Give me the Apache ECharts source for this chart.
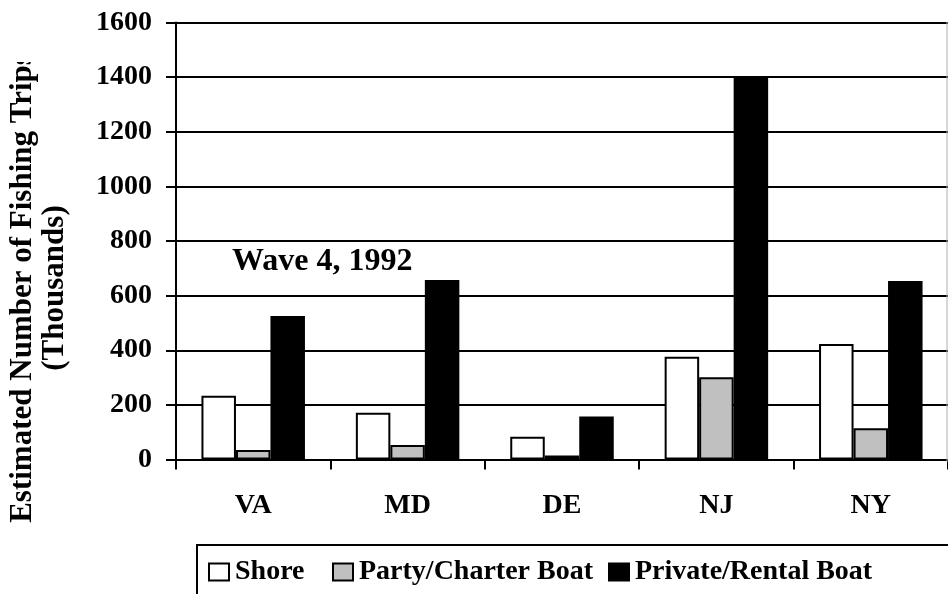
<!DOCTYPE html>
<html>
<head>
<meta charset="utf-8">
<script src="https://cdn.jsdelivr.net/npm/echarts@6/dist/echarts.min.js"></script>
<style>
  html, body { margin: 0; padding: 0; background: #fff; }
  #chart { width: 948px; height: 594px; }
</style>
</head>
<body>
<div id="chart"></div>
<script>
// Estimated fishing trips (thousands) by state and fishing mode
const states = ['VA', 'MD', 'DE', 'NJ', 'NY'];
const shore = [233, 171, 83, 376, 423];
const partyCharter = [35, 53, 15, 301, 114];
const privateRental = [525, 657, 157, 1400, 654];
const yTicks = { min: 0, max: 1600, interval: 200 };
const seriesNames = ['Shore', 'Party/Charter Boat', 'Private/Rental Boat'];

const FONT = '"Liberation Serif", "Times New Roman", serif';

const chart = echarts.init(document.getElementById('chart'), null, { renderer: 'canvas' });

function barSeries(name, data, fill) {
  return {
    name: name,
    type: 'bar',
    data: data,
    barWidth: 34.5,
    barGap: '0%',
    itemStyle: { color: fill, borderColor: '#000', borderWidth: 2 },
    emphasis: { disabled: true },
    animation: false
  };
}

// one legend entry per block so each can sit at its own offset
const legendLefts = [208, 332, 608];
const legends = seriesNames.map((name, i) => ({
  left: legendLefts[i],
  top: 558,
  padding: 0,
  itemWidth: 20,
  itemHeight: 17,
  icon: 'rect',
  selectedMode: false,
  textStyle: { color: '#000', fontFamily: FONT, fontWeight: 'bold', fontSize: 28, padding: [0, 0, 0, 1] },
  data: [name]
}));

chart.setOption({
  backgroundColor: '#ffffff',
  animation: false,
  grid: { left: 176, top: 22.5, width: 774, height: 437, containLabel: false },
  xAxis: {
    type: 'category',
    data: states,
    axisLine: { lineStyle: { color: '#000', width: 2 } },
    axisTick: { show: true, length: 10, lineStyle: { color: '#000', width: 2 } },
    axisLabel: { color: '#000', fontFamily: FONT, fontWeight: 'bold', fontSize: 28, margin: 32 },
    splitLine: { show: false }
  },
  yAxis: {
    type: 'value',
    min: yTicks.min,
    max: yTicks.max,
    interval: yTicks.interval,
    axisLine: { show: true, lineStyle: { color: '#000', width: 2 } },
    axisTick: { show: true, length: 10, lineStyle: { color: '#000', width: 2 } },
    axisLabel: {
      color: '#000', fontFamily: FONT, fontWeight: 'bold', fontSize: 28, margin: 24,
      formatter: v => String(v)
    },
    splitLine: { show: true, lineStyle: { color: '#000', width: 2 } }
  },
  legend: legends,
  graphic: [
    {
      type: 'text',
      left: 232,
      top: 246,
      style: { text: 'Wave 4, 1992', fill: '#000', font: 'bold 32px ' + FONT }
    },
    {
      type: 'text',
      x: 39,
      y: 288,
      rotation: Math.PI / 2,
      style: {
        text: 'Estimated Number of Fishing Trips\n(Thousands)',
        fill: '#000',
        font: 'bold 31px ' + FONT,
        align: 'center',
        verticalAlign: 'middle',
        lineHeight: 32
      }
    },
    {
      // clip the top end of the rotated axis title
      type: 'rect',
      shape: { x: 0, y: 0, width: 60, height: 62 },
      style: { fill: '#fff' },
      z: 100
    },
    {
      type: 'line',
      shape: { x1: 947, y1: 22, x2: 947, y2: 462 },
      style: { stroke: '#b0b0b0', lineWidth: 1 },
      z: 100
    },
    {
      // legend frame
      type: 'rect',
      shape: { x: 197, y: 545, width: 800, height: 100 },
      style: { fill: 'none', stroke: '#000', lineWidth: 2 },
      z: 100
    }
  ],
  series: [
    barSeries(seriesNames[0], shore, '#ffffff'),
    barSeries(seriesNames[1], partyCharter, '#c0c0c0'),
    barSeries(seriesNames[2], privateRental, '#000000')
  ]
});
</script>
</body>
</html>
